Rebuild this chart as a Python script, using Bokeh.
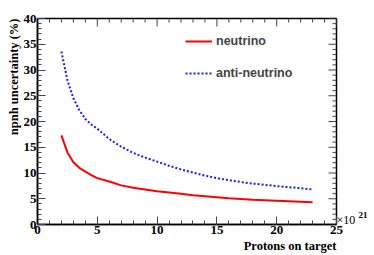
import numpy as np
from bokeh.plotting import figure
from bokeh.models import (Range1d, LinearAxis, Legend, LegendItem,
                          SingleIntervalTicker, FixedTicker, Title)
from bokeh.embed import file_html
from bokeh.resources import INLINE

# ---- data ----
pot = [2, 2.5, 3, 3.5, 4, 4.5, 5, 6, 7, 8, 9, 10, 11, 12, 13, 14, 15, 16, 17,
       18, 19, 20, 21, 22, 23]
neutrino = [17.3, 14.0, 12.1, 11.0, 10.25, 9.6, 9.0, 8.35, 7.6, 7.15, 6.8, 6.45,
            6.2, 5.95, 5.7, 5.5, 5.3, 5.1, 4.95, 4.8, 4.7, 4.6, 4.5, 4.4, 4.3]
antineutrino = [33.6, 28.0, 24.5, 22.2, 20.5, 19.4, 18.6, 16.6, 15.1, 13.9, 13.0,
                12.2, 11.4, 10.7, 10.1, 9.5, 9.0, 8.6, 8.25, 7.95, 7.7, 7.45,
                7.25, 7.05, 6.8]
x_major = [0, 5, 10, 15, 20, 25]
y_major = [0, 5, 10, 15, 20, 25, 30, 35, 40]
x_minor = [v for v in range(0, 26) if v % 5]
y_minor = [v for v in range(0, 41) if v % 5]
exp_base = "\u00d710"
exp_power = "21"

SERIF = "Liberation Serif"
AX_SERIF = "serif"
SANS = "Liberation Sans"

X0, X1, Y0, Y1 = 0, 25, 0, 40

p = figure(width=374, height=254, output_backend="svg", toolbar_location=None,
           x_range=Range1d(X0, X1), y_range=Range1d(Y0, Y1),
           min_border_left=37, min_border_right=38, min_border_top=18,
           min_border_bottom=30, x_axis_location=None, y_axis_location=None)
p.xgrid.visible = False
p.ygrid.visible = False
p.outline_line_color = "black"
p.outline_line_width = 1.5
p.background_fill_color = "white"
p.border_fill_color = "white"

TICK_C = "#444444"

AX_STYLE = dict(axis_line_color="black", axis_line_width=1.5,
                major_tick_in=8, major_tick_out=0, minor_tick_in=4,
                minor_tick_out=0, major_tick_line_color=TICK_C,
                minor_tick_line_color=TICK_C, major_label_text_font=AX_SERIF,
                major_label_text_font_style="bold",
                major_label_text_font_size="13px",
                major_label_text_color="black", major_label_standoff=1)

xax = LinearAxis(ticker=SingleIntervalTicker(interval=5, num_minor_ticks=5),
                 **AX_STYLE)
p.add_layout(xax, "below")
yax = LinearAxis(ticker=SingleIntervalTicker(interval=5, num_minor_ticks=5),
                 **AX_STYLE)
p.add_layout(yax, "left")

# axis titles as side-panel titles, aligned to the far end like ROOT
p.add_layout(Title(text="Protons on target", align="right", text_font=SERIF,
                   text_font_style="bold", text_font_size="12.5px",
                   text_color="black", standoff=0, offset=0), "below")
p.add_layout(Title(text="npnh uncertainty (%)", align="right", text_font=SERIF,
                   text_font_style="bold", text_font_size="12.5px",
                   text_color="black", standoff=0, offset=0), "left")


# the x10^21 exponent, as labels of two bare axes on the right
def bare_right(tick, text, size, bold):
    ax = LinearAxis(ticker=FixedTicker(ticks=[tick]),
                    major_label_overrides={tick: text},
                    axis_line_color=None, major_tick_line_color=None,
                    minor_tick_line_color=None, major_tick_in=0,
                    major_tick_out=0, minor_tick_in=0, minor_tick_out=0,
                    major_label_standoff=0, major_label_text_font=AX_SERIF,
                    major_label_text_font_style="bold" if bold else "normal",
                    major_label_text_font_size=size,
                    major_label_text_color="black")
    p.add_layout(ax, "right")


bare_right(0.9, exp_base, "12px", False)
bare_right(1.8, exp_power, "9px", True)

# ticks on the top and right frame edges (ROOT style), lengths in data units
px_y = (Y1 - Y0) / 206.0
px_x = (X1 - X0) / 299.0
p.segment(x0=x_major, y0=[Y1] * len(x_major), x1=x_major,
          y1=[Y1 - 8 * px_y] * len(x_major), line_color=TICK_C, line_width=1)
p.segment(x0=x_minor, y0=[Y1] * len(x_minor), x1=x_minor,
          y1=[Y1 - 4 * px_y] * len(x_minor), line_color=TICK_C, line_width=1)
p.segment(x0=[X1] * len(y_major), y0=y_major, x1=[X1 - 8 * px_x] * len(y_major),
          y1=y_major, line_color=TICK_C, line_width=1)
p.segment(x0=[X1] * len(y_minor), y0=y_minor, x1=[X1 - 4 * px_x] * len(y_minor),
          y1=y_minor, line_color=TICK_C, line_width=1)

r1 = p.line(pot, neutrino, line_color="#ff0000", line_width=2)
r2 = p.line(pot, antineutrino, line_color="#1a1aff", line_width=2,
            line_dash="2 2")

legend = Legend(items=[LegendItem(label="neutrino", renderers=[r1]),
                       LegendItem(label="anti-neutrino", renderers=[r2])],
                location=(148, 141), orientation="vertical",
                glyph_width=27, glyph_height=20, label_height=20,
                spacing=12, label_standoff=4, padding=0, margin=0,
                border_line_color=None, background_fill_alpha=0,
                label_text_font=SANS, label_text_font_style="bold",
                label_text_font_size="12.5px")
p.add_layout(legend, "center")

open("out.html", "w").write(file_html(p, INLINE))
